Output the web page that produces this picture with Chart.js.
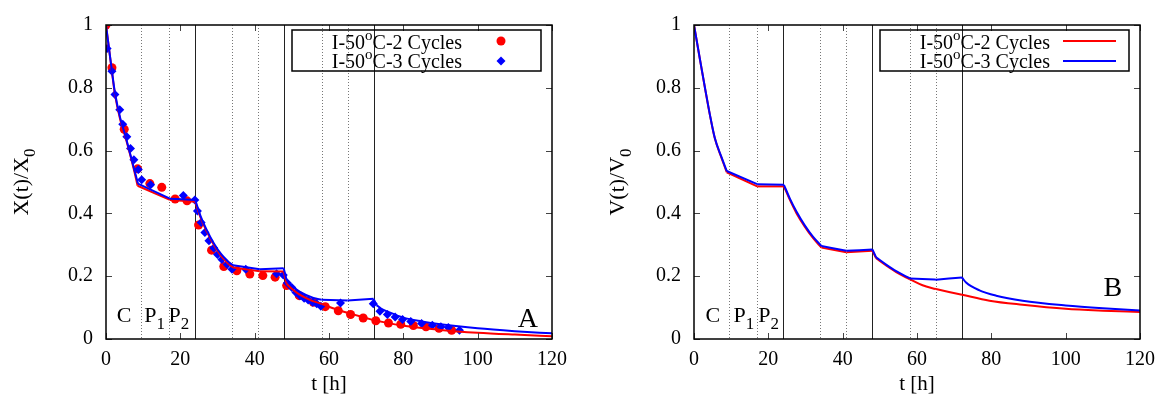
<!DOCTYPE html>
<html>
<head>
<meta charset="utf-8">
<script src="https://cdn.jsdelivr.net/npm/chart.js@4.4.1/dist/chart.umd.min.js"></script>
<style>
  html, body { margin: 0; padding: 0; background: #fff; }
  #wrap { position: relative; width: 1164px; height: 401px; }
  .panel { position: absolute; top: 0; width: 582px; height: 401px; }
</style>
</head>
<body>
<div id="wrap">
  <div class="panel" style="left:0"><canvas id="chartA" width="582" height="401"></canvas></div>
  <div class="panel" style="left:582px"><canvas id="chartB" width="582" height="401"></canvas></div>
</div>
<script>
// phase boundaries [h]: dotted = end of C / P1, solid = end of a cycle
const dottedLines = [9.5, 17, 34, 41, 58, 65];
const solidLines = [24, 48, 72];

// panel A, measured X(t)/X0, 2 cycles (red dots)
const dotT2 = [0, 1.6, 4.9, 8.5, 11.8, 15, 18.6, 21.8, 24.9, 28.4, 31.7, 35.2, 38.7, 42.2, 45.5,
  48.6, 52, 55.8, 59, 62.5, 65.8, 69.2, 72.6, 76, 79.3, 82.7, 86.1, 89.6, 93];
const dotX2 = [1.0, 0.864, 0.668, 0.542, 0.495, 0.483, 0.446, 0.440, 0.363, 0.283, 0.231, 0.217, 0.207, 0.202, 0.197,
  0.170, 0.138, 0.117, 0.103, 0.090, 0.078, 0.067, 0.058, 0.051, 0.047, 0.043, 0.039, 0.034, 0.028];

// panel A, measured X(t)/X0, 3 cycles (blue diamonds)
const dotT3 = [0.3, 1.6, 2.4, 3.7, 4.5, 5.6, 6.6, 7.5, 8.7, 9.6, 12, 20.8, 23.9,
  24.6, 25.6, 26.6, 27.7, 29, 30, 31.2, 32.6, 33.9, 37.6, 45.9, 47.7,
  48.8, 50, 51.1, 52.2, 53.3, 54.4, 55.6, 56.7, 57.8, 63.1, 71.9,
  73.7, 75.7, 77.8, 79.8, 82, 84.9, 87.8, 90.1, 92.1, 95.1];
const dotX3 = [0.925, 0.853, 0.779, 0.730, 0.684, 0.644, 0.607, 0.571, 0.540, 0.507, 0.491, 0.457, 0.443,
  0.408, 0.371, 0.339, 0.313, 0.290, 0.269, 0.253, 0.237, 0.222, 0.222, 0.208, 0.204,
  0.178, 0.164, 0.148, 0.138, 0.130, 0.124, 0.117, 0.112, 0.104, 0.115, 0.112,
  0.088, 0.078, 0.070, 0.062, 0.056, 0.049, 0.044, 0.039, 0.037, 0.028];

// panel A, model curves
const fitTA2 = [0, 1.5, 2.4, 3.8, 5.1, 6.5, 7.6, 8.5, 17.2, 24, 25.5, 27, 29, 31, 33, 34.2, 41.4, 47.8,
  48.6, 50, 52, 55, 58, 62, 66, 72, 80, 90, 100, 110, 120];
const fitXA2 = [1.0, 0.860, 0.780, 0.700, 0.648, 0.587, 0.535, 0.488, 0.443, 0.437, 0.385, 0.345, 0.300, 0.264, 0.238, 0.228, 0.216, 0.215,
  0.176, 0.160, 0.142, 0.124, 0.112, 0.094, 0.080, 0.060, 0.042, 0.029, 0.020, 0.014, 0.009];
const fitTA3 = [0, 1.5, 2.4, 3.8, 5.1, 6.5, 7.6, 8.6, 17.2, 24, 25.5, 27, 29, 31, 33, 34.2, 41.4, 47.8,
  48.6, 50, 52.2, 55.8, 58, 65, 72, 72.8, 74, 76, 80, 85, 90, 100, 110, 120];
const fitXA3 = [1.0, 0.862, 0.785, 0.705, 0.652, 0.590, 0.540, 0.495, 0.447, 0.443, 0.390, 0.350, 0.305, 0.270, 0.245, 0.235, 0.222, 0.225,
  0.188, 0.170, 0.150, 0.131, 0.125, 0.123, 0.128, 0.108, 0.097, 0.086, 0.068, 0.056, 0.047, 0.034, 0.025, 0.018];

// panel B, model V(t)/V0
const fitTB2 = [0, 1.6, 3, 4.3, 5.6, 7.4, 8.8, 17, 24.2, 25.8, 27.6, 29.8, 32, 34.3, 41, 48,
  49, 51.7, 54.4, 58.1, 61.5, 65.1, 72.1, 79.5, 88.4, 100, 110, 120];
const fitVB2 = [1.0, 0.890, 0.796, 0.712, 0.639, 0.577, 0.531, 0.486, 0.486, 0.443, 0.400, 0.358, 0.322, 0.291, 0.276, 0.281,
  0.257, 0.234, 0.213, 0.190, 0.171, 0.159, 0.141, 0.122, 0.109, 0.096, 0.090, 0.086];
const fitTB3 = [0, 1.6, 3, 4.3, 5.6, 7.4, 8.8, 17, 24.2, 25.8, 27.6, 29.8, 32, 34.3, 41, 48,
  49, 51.7, 54.4, 58.1, 65.1, 72.1, 73.2, 76.8, 81.3, 88.4, 100, 110, 120];
const fitVB3 = [1.0, 0.891, 0.797, 0.713, 0.640, 0.579, 0.535, 0.493, 0.491, 0.447, 0.405, 0.362, 0.326, 0.296, 0.281, 0.285,
  0.260, 0.237, 0.216, 0.193, 0.189, 0.196, 0.180, 0.155, 0.138, 0.122, 0.107, 0.098, 0.091];

const seriesNames = ['C-2 Cycles', 'C-3 Cycles'];
const RED = '#ff0000';
const BLUE = '#0000ff';
const FONT = '"Liberation Serif", "Times New Roman", serif';

const pts = (ts, vs) => ts.map((t, i) => ({ x: t, y: vs[i] }));

// cut a model curve into one piece per phase, so each piece is smooth and the kinks stay sharp
const bounds = dottedLines.concat(solidLines);
function phasePieces(ts, vs) {
  const pieces = [];
  let cur = [];
  ts.forEach((t, i) => {
    cur.push({ x: t, y: vs[i] });
    if (i > 0 && i < ts.length - 1 && bounds.some(b => Math.abs(b - t) <= 1)) {
      pieces.push(cur);
      cur = [{ x: t, y: vs[i] }];
    }
  });
  pieces.push(cur);
  return pieces;
}

// text with sub/superscripts: parts = [[text, ''|'sub'|'sup'], ...]
function drawRich(ctx, parts, x, y, size, align) {
  const fontOf = k => (k ? Math.round(size * 0.75) : size) + 'px ' + FONT;
  let w = 0;
  parts.forEach(([t, k]) => { ctx.font = fontOf(k); w += ctx.measureText(t).width; });
  let cx = align === 'right' ? x - w : align === 'center' ? x - w / 2 : x;
  ctx.textAlign = 'left';
  ctx.textBaseline = 'alphabetic';
  parts.forEach(([t, k]) => {
    ctx.font = fontOf(k);
    const dy = k === 'sub' ? size * 0.3 : k === 'sup' ? -size * 0.45 : 0;
    ctx.fillText(t, cx, y + dy);
    cx += ctx.measureText(t).width;
  });
}

const panelDecor = {
  id: 'panelDecor',
  beforeDatasetsDraw(chart) {
    const { ctx, chartArea: a, scales: { x } } = chart;
    ctx.save();
    ctx.lineWidth = 1;
    ctx.strokeStyle = '#777';
    ctx.setLineDash([1, 2]);
    dottedLines.forEach(t => {
      const px = Math.round(x.getPixelForValue(t)) + 0.5;
      ctx.beginPath(); ctx.moveTo(px, a.top); ctx.lineTo(px, a.bottom); ctx.stroke();
    });
    ctx.setLineDash([]);
    ctx.strokeStyle = '#222';
    solidLines.forEach(t => {
      const px = Math.round(x.getPixelForValue(t)) + 0.5;
      ctx.beginPath(); ctx.moveTo(px, a.top); ctx.lineTo(px, a.bottom); ctx.stroke();
    });
    ctx.restore();
  },
  afterDraw(chart, args, p) {
    const { ctx, chartArea: a, scales: { x, y } } = chart;
    ctx.save();

    // inward mirrored ticks
    ctx.strokeStyle = '#444';
    ctx.lineWidth = 1;
    const tl = 6;
    x.ticks.forEach(tk => {
      const px = Math.round(x.getPixelForValue(tk.value)) + 0.5;
      ctx.beginPath();
      ctx.moveTo(px, a.bottom); ctx.lineTo(px, a.bottom - tl);
      ctx.moveTo(px, a.top); ctx.lineTo(px, a.top + tl);
      ctx.stroke();
    });
    y.ticks.forEach(tk => {
      const py = Math.round(y.getPixelForValue(tk.value)) + 0.5;
      ctx.beginPath();
      ctx.moveTo(a.left, py); ctx.lineTo(a.left + tl, py);
      ctx.moveTo(a.right, py); ctx.lineTo(a.right - tl, py);
      ctx.stroke();
    });

    // frame
    ctx.strokeStyle = '#000';
    ctx.lineWidth = 1.5;
    ctx.strokeRect(a.left, a.top, a.right - a.left, a.bottom - a.top);

    ctx.fillStyle = '#000';

    // phase labels C P1 P2
    const by = y.getPixelForValue(0.054);
    drawRich(ctx, [['C', '']], x.getPixelForValue(p.cT), by, 22, 'left');
    drawRich(ctx, [['P', ''], ['1', 'sub']], x.getPixelForValue(p.p1T), by, 22, 'left');
    drawRich(ctx, [['P', ''], ['2', 'sub']], x.getPixelForValue(p.p2T), by, 22, 'left');

    // panel letter
    drawRich(ctx, [[p.letter, '']], x.getPixelForValue(p.letterT), y.getPixelForValue(p.letterV), 28, 'right');

    // axis titles
    drawRich(ctx, [['t [h]', '']], (a.left + a.right) / 2, 390, 21, 'center');
    ctx.save();
    ctx.translate(a.left - p.yTitleOff, (a.top + a.bottom) / 2);
    ctx.rotate(-Math.PI / 2);
    drawRich(ctx, [[p.yName + '(t)/' + p.yName, ''], ['0', 'sub']], 0, 0, 22, 'center');
    ctx.restore();

    // legend box
    const lx0 = a.right - 260, lx1 = a.right - 11, ly0 = a.top + 5, ly1 = a.top + 46;
    ctx.lineWidth = 1.5;
    ctx.strokeStyle = '#000';
    ctx.strokeRect(lx0, ly0, lx1 - lx0, ly1 - ly0);
    const rows = [{ c: RED, base: ly0 + 19, mid: ly0 + 11 }, { c: BLUE, base: ly0 + 38, mid: ly0 + 31 }];
    rows.forEach((r, i) => {
      ctx.fillStyle = '#000';
      drawRich(ctx, [['I-50', ''], ['o', 'sup'], [seriesNames[i], '']], lx1 - 79, r.base, 20, 'right');
      if (p.legendLines) {
        ctx.strokeStyle = r.c;
        ctx.lineWidth = 2;
        ctx.beginPath(); ctx.moveTo(lx1 - 66, r.mid); ctx.lineTo(lx1 - 13, r.mid); ctx.stroke();
      } else {
        ctx.fillStyle = r.c;
        ctx.beginPath();
        const cx = lx1 - 40;
        if (i === 0) {
          ctx.arc(cx, r.mid, 4.5, 0, Math.PI * 2);
        } else {
          ctx.moveTo(cx, r.mid - 4.5); ctx.lineTo(cx + 4.5, r.mid);
          ctx.lineTo(cx, r.mid + 4.5); ctx.lineTo(cx - 4.5, r.mid); ctx.closePath();
        }
        ctx.fill();
      }
    });

    ctx.restore();
  }
};

function lineSets(ts, vs, color, order) {
  return phasePieces(ts, vs).map(data => ({
    data, borderColor: color, backgroundColor: color, borderWidth: 2, pointRadius: 0,
    cubicInterpolationMode: 'monotone', fill: false, order
  }));
}
function dotSet(data, color, style, order) {
  return { data, showLine: false, pointStyle: style, pointRadius: 4.5, pointBorderWidth: 0,
    backgroundColor: color, borderColor: color, order };
}

function makePanel(id, datasets, p) {
  const tickFont = { family: FONT, size: 20 };
  return new Chart(document.getElementById(id), {
    type: 'line',
    data: { datasets },
    options: {
      responsive: false,
      animation: false,
      layout: { padding: { top: 20, right: p.padRight, left: 0, bottom: 0 } },
      plugins: { legend: { display: false }, tooltip: { enabled: false }, panelDecor: p },
      scales: {
        x: {
          type: 'linear', min: 0, max: 120,
          grid: { display: false, drawTicks: false }, border: { display: false },
          ticks: { stepSize: 20, padding: 9, color: '#000', font: tickFont, maxRotation: 0 },
          afterFit(s) { s.height = 62; }
        },
        y: {
          type: 'linear', min: 0, max: 1,
          grid: { display: false, drawTicks: false }, border: { display: false },
          ticks: { stepSize: 0.2, padding: 13, color: '#000', font: tickFont,
                   callback: v => String(Math.round(v * 10) / 10) },
          afterFit(s) { s.width = p.axisWidth; }
        }
      }
    },
    plugins: [panelDecor]
  });
}

makePanel('chartA', [
  ...lineSets(fitTA3, fitXA3, BLUE, 0),
  ...lineSets(fitTA2, fitXA2, RED, 1),
  dotSet(pts(dotT3, dotX3), BLUE, 'rectRot', 2),
  dotSet(pts(dotT2, dotX2), RED, 'circle', 3)
], { axisWidth: 106, padRight: 30, yName: 'X', yTitleOff: 78, letter: 'A', letterT: 116.2, letterV: 0.039,
     cT: 2.9, p1T: 10.3, p2T: 16.8, legendLines: false });

makePanel('chartB', [
  ...lineSets(fitTB3, fitVB3, BLUE, 0),
  ...lineSets(fitTB2, fitVB2, RED, 1)
], { axisWidth: 112, padRight: 23, yName: 'V', yTitleOff: 70, letter: 'B', letterT: 115.2, letterV: 0.138,
     cT: 3.1, p1T: 10.6, p2T: 17.3, legendLines: true });
</script>
</body>
</html>
